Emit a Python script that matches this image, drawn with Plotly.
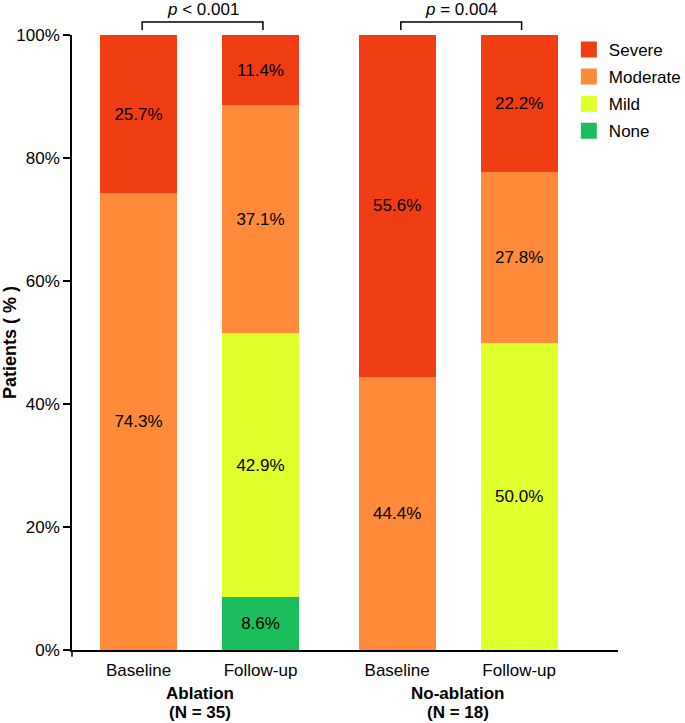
import plotly.graph_objects as go

# ---- data ----
bar_labels = ["Baseline", "Follow-up", "Baseline", "Follow-up"]
bar_pos = [1, 2, 3.12, 4.12]
group_names = ["Ablation", "No-ablation"]
group_ns = ["(N = 35)", "(N = 18)"]
severity = ["None", "Mild", "Moderate", "Severe"]
none_vals = [None, 8.6, None, None]
mild_vals = [None, 42.9, None, 50.0]
moderate_vals = [74.3, 37.1, 44.4, 27.8]
severe_vals = [25.7, 11.4, 55.6, 22.2]
p_values = ["<i>p</i> < 0.001", "<i>p</i> = 0.004"]
y_ticks = [0, 20, 40, 60, 80, 100]
y_ticklabels = ["0%", "20%", "40%", "60%", "80%", "100%"]

colors = {"Severe": "#F13D13", "Moderate": "#FE8A3A", "Mild": "#DFFE2B", "None": "#1CBD5C"}
values = {"None": none_vals, "Mild": mild_vals, "Moderate": moderate_vals, "Severe": severe_vals}

FONT = "Liberation Sans, Arial, sans-serif"
FS = 17

fig = go.Figure()
for s in severity:
    fig.add_trace(go.Bar(
        x=bar_pos, y=values[s], name=s, width=0.63,
        marker=dict(color=colors[s], line=dict(width=0)),
        texttemplate="%{y:.1f}%", textposition="inside", insidetextanchor="middle",
        textfont=dict(color="black", size=FS, family=FONT),
        showlegend=False, hoverinfo="skip",
    ))

for s in reversed(severity):
    fig.add_trace(go.Scatter(
        x=[None], y=[None], mode="markers", name=s, legendgroup=s,
        marker=dict(symbol="square", size=17, color=colors[s]),
        showlegend=True,
    ))

# brackets with p-values
for i, p in enumerate(p_values):
    x0 = bar_pos[2 * i] + 0.03
    x1 = bar_pos[2 * i + 1] + 0.02
    fig.add_shape(type="path", xref="x", yref="paper",
                  path=f"M {x0},1.008 L {x0},1.021 L {x1},1.021 L {x1},1.008",
                  line=dict(color="black", width=1.5))
    fig.add_annotation(x=(x0 + x1) / 2, y=1.041, xref="x", yref="paper",
                       text=p, showarrow=False, yanchor="middle",
                       font=dict(size=FS, family=FONT, color="black"))

# small extension of the y axis line below zero
fig.add_shape(type="line", xref="paper", yref="paper", x0=0, x1=0, y0=0, y1=-0.011,
              line=dict(color="black", width=1.5))

# group labels
for i in range(len(group_names)):
    xc = (bar_pos[2 * i] + bar_pos[2 * i + 1]) / 2
    fig.add_annotation(x=xc, y=-0.070, xref="x", yref="paper",
                       text=f"<b>{group_names[i]}</b>", showarrow=False,
                       yanchor="middle", font=dict(size=FS, family=FONT, color="black"))
    fig.add_annotation(x=xc, y=-0.101, xref="x", yref="paper",
                       text=f"<b>{group_ns[i]}</b>", showarrow=False,
                       yanchor="middle", font=dict(size=FS, family=FONT, color="black"))

fig.update_layout(
    barmode="stack",
    width=685, height=723,
    margin=dict(l=72, r=67, t=35, b=73, autoexpand=False),
    paper_bgcolor="white", plot_bgcolor="white",
    font=dict(family=FONT, size=FS, color="black"),
    legend=dict(x=0.91, y=1.005, xanchor="left", yanchor="top",
                font=dict(size=FS, family=FONT), traceorder="grouped",
                tracegroupgap=2,
                bgcolor="rgba(0,0,0,0)", itemsizing="trace"),
    xaxis=dict(range=[0.455, 4.93], tickvals=bar_pos, ticktext=bar_labels,
               showline=True, linecolor="black", linewidth=1.5,
               showgrid=False, zeroline=False, ticks="", ticklabelstandoff=4,
               tickfont=dict(size=FS, family=FONT, color="black")),
    yaxis=dict(range=[0, 100], tickvals=y_ticks, ticktext=y_ticklabels,
               showline=True, linecolor="black", linewidth=1.5,
               ticks="outside", ticklen=7, tickwidth=1.5, tickcolor="black",
               showgrid=False, zeroline=False,
               tickfont=dict(size=FS, family=FONT, color="black"),
               title=dict(text="<b>Patients ( % )</b>", standoff=1,
                          font=dict(size=18, family=FONT, color="black"))),
)

fig.write_html("out.html", config={"displayModeBar": False},
               post_script="document.body.style.margin='0px';")
